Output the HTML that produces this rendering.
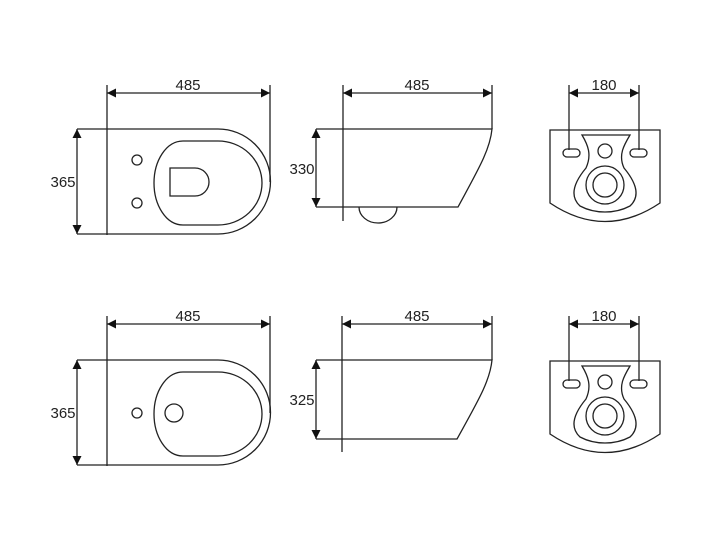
<!DOCTYPE html>
<html><head><style>html,body{margin:0;padding:0;background:#fff}svg{display:block}</style></head><body>
<svg width="715" height="555" viewBox="0 0 715 555" xmlns="http://www.w3.org/2000/svg" font-family="Liberation Sans, Arial, sans-serif" font-size="15" fill="none" stroke="#222" stroke-width="1.3">
<defs>
<marker id="a" viewBox="0 0 10 10" refX="10" refY="5" markerWidth="9" markerHeight="9" orient="auto-start-reverse" markerUnits="userSpaceOnUse"><path d="M0,0L10,5L0,10z" fill="#111" stroke="none"/></marker>
</defs>

<!-- TOP LEFT -->
<g>
<line x1="107" y1="85" x2="107" y2="235"/>
<line x1="270" y1="85" x2="270" y2="182"/>
<line x1="107" y1="93" x2="270" y2="93" marker-start="url(#a)" marker-end="url(#a)"/>
<line x1="77" y1="129" x2="77" y2="234" marker-start="url(#a)" marker-end="url(#a)"/>
<path d="M77,129H218A52,52 0 0 1 218,234H77"/>
<circle cx="137" cy="160" r="5"/><circle cx="137" cy="203" r="5"/>
<path d="M183,141H218A44,42 0 0 1 218,225H183C166,225 154,205 154,183C154,161 166,141 183,141Z"/>
<path d="M170,168H195A14,14 0 0 1 195,196H170Z"/>
<text x="188" y="90" fill="#222" stroke="none" text-anchor="middle">485</text>
<text x="63" y="187" fill="#222" stroke="none" text-anchor="middle">365</text>
</g>

<!-- TOP MIDDLE -->
<g>
<line x1="343" y1="85" x2="343" y2="221"/>
<line x1="492" y1="85" x2="492" y2="129"/>
<line x1="343" y1="93" x2="492" y2="93" marker-start="url(#a)" marker-end="url(#a)"/>
<line x1="316" y1="129" x2="316" y2="207" marker-start="url(#a)" marker-end="url(#a)"/>
<path d="M316,129H492C490,150 478,170 458,207H316"/>
<path d="M359,207A19,16 0 0 0 397,207"/>
<text x="417" y="90" fill="#222" stroke="none" text-anchor="middle">485</text>
<text x="302" y="174" fill="#222" stroke="none" text-anchor="middle">330</text>
</g>

<!-- TOP RIGHT -->
<g id="fr">
<line x1="569" y1="85" x2="569" y2="150"/>
<line x1="639" y1="85" x2="639" y2="150"/>
<line x1="569" y1="93" x2="639" y2="93" marker-start="url(#a)" marker-end="url(#a)"/>
<path d="M550,130H660V203Q605,240 550,203Z"/>
<rect x="563" y="149" width="17" height="8" rx="4"/>
<rect x="630" y="149" width="17" height="8" rx="4"/>
<path d="M582,135H630C624,145 618,155 624,168C634,180 642,195 630,206C615,214 595,214 580,206C568,195 576,180 586,168C592,155 588,145 582,135Z"/>
<circle cx="605" cy="151" r="7"/>
<circle cx="605" cy="185" r="19"/><circle cx="605" cy="185" r="12"/>
<text x="604" y="90" fill="#222" stroke="none" text-anchor="middle">180</text>
</g>

<!-- BOTTOM LEFT -->
<g>
<line x1="107" y1="316" x2="107" y2="466"/>
<line x1="270" y1="316" x2="270" y2="413"/>
<line x1="107" y1="324" x2="270" y2="324" marker-start="url(#a)" marker-end="url(#a)"/>
<line x1="77" y1="360" x2="77" y2="465" marker-start="url(#a)" marker-end="url(#a)"/>
<path d="M77,360H218A52,52 0 0 1 218,465H77"/>
<circle cx="137" cy="413" r="5"/>
<circle cx="174" cy="413" r="9"/>
<path d="M183,372H218A44,42 0 0 1 218,456H183C166,456 154,436 154,414C154,392 166,372 183,372Z"/>
<text x="188" y="321" fill="#222" stroke="none" text-anchor="middle">485</text>
<text x="63" y="418" fill="#222" stroke="none" text-anchor="middle">365</text>
</g>

<!-- BOTTOM MIDDLE -->
<g>
<line x1="342" y1="316" x2="342" y2="452"/>
<line x1="492" y1="316" x2="492" y2="360"/>
<line x1="342" y1="324" x2="492" y2="324" marker-start="url(#a)" marker-end="url(#a)"/>
<line x1="316" y1="360" x2="316" y2="439" marker-start="url(#a)" marker-end="url(#a)"/>
<path d="M316,360H492C490,381 478,401 457,439H316"/>
<text x="417" y="321" fill="#222" stroke="none" text-anchor="middle">485</text>
<text x="302" y="405" fill="#222" stroke="none" text-anchor="middle">325</text>
</g>

<!-- BOTTOM RIGHT -->
<use href="#fr" transform="translate(0,231)"/>
</svg>
</body></html>
